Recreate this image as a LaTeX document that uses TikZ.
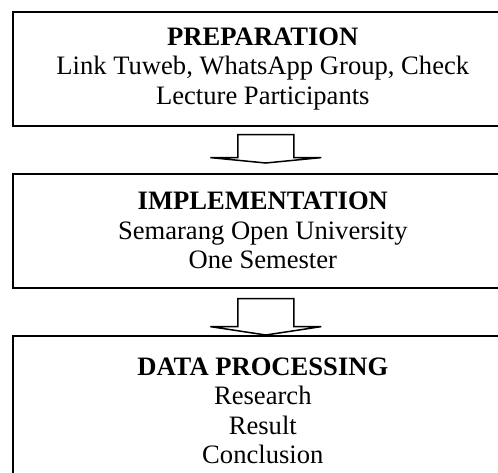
\documentclass[tikz,border=0pt]{standalone}
\usepackage{fontspec}
\setmainfont{Liberation Serif}
\usetikzlibrary{calc}
\begin{document}
\begin{tikzpicture}[x=1pt,y=-1pt,
  stage/.style={draw, line width=1.6pt, minimum width=500pt, anchor=north west,
    inner sep=0pt, align=center, font=\fontsize{26.6}{29.5}\selectfont},
  blockarrow/.style={draw, line width=1.5pt, fill=white, line join=miter}]
\useasboundingbox (0,0) rectangle (498,472);
\clip (0,0) rectangle (498,472);

% the three stages
\node[stage, minimum height=114pt] (prep) at (12,11)
  {\textbf{PREPARATION}\\Link Tuweb, WhatsApp Group, Check\\Lecture Participants};
\node[stage, minimum height=114pt] (impl) at (12,173)
  {\textbf{IMPLEMENTATION}\\Semarang Open University\\One Semester};
\node[stage, minimum height=150pt] (data) at (12,335)
  {\textbf{DATA PROCESSING}\\Research\\Result\\Conclusion};

% block arrows between the stages
\draw[blockarrow] ($(prep.south)+(-25,8)$) -- ($(prep.south)+(-25,31)$)
  -- ($(prep.south)+(-52.5,31)$) -- ($(impl.north)+(3,-10)$)
  -- ($(prep.south)+(58.5,31)$) -- ($(prep.south)+(31,31)$)
  -- ($(prep.south)+(31,8)$) -- cycle;
\draw[blockarrow] ($(impl.south)+(-25,10)$) -- ($(impl.south)+(-25,38)$)
  -- ($(impl.south)+(-52.5,38)$) -- ($(data.north)+(3,0)$)
  -- ($(impl.south)+(58.5,38)$) -- ($(impl.south)+(31,38)$)
  -- ($(impl.south)+(31,10)$) -- cycle;
\end{tikzpicture}
\end{document}
